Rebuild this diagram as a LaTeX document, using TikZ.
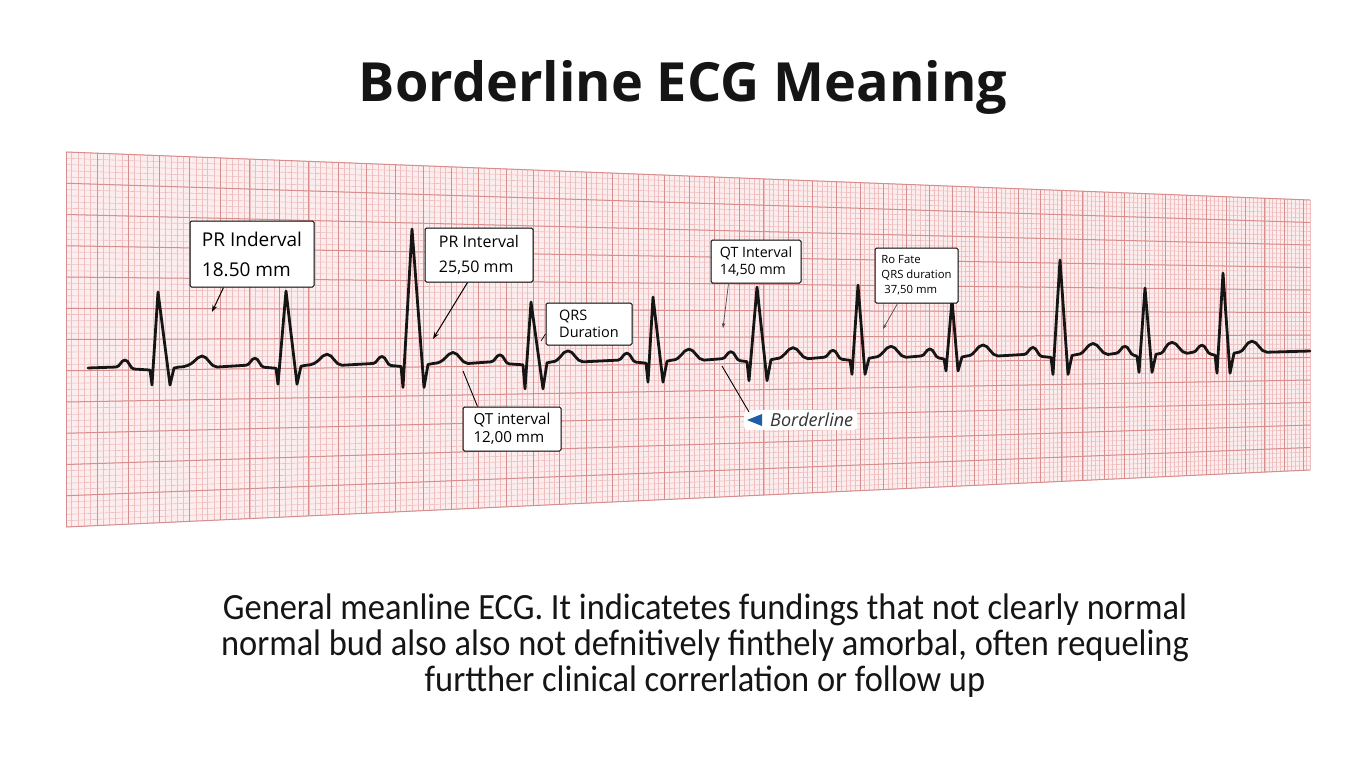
\documentclass[tikz,border=0pt]{standalone}
\usepackage{fontspec}
\setmainfont{Open Sans}
\newfontfamily\bodyfont[FakeStretch=0.93]{Carlito}
\usetikzlibrary{arrows.meta}
\definecolor{paper}{HTML}{FCEEEE}
\definecolor{minorc}{HTML}{EFBFBF}
\definecolor{majorc}{HTML}{D98E8E}
\definecolor{ink}{HTML}{151515}
\definecolor{tri}{HTML}{1F5DA8}
\tikzset{
  minorline/.style={draw=minorc, line width=0.6pt},
  majorline/.style={draw=majorc, line width=1pt},
  ecg/.style={draw=ink, line width=2.8pt, line join=round, line cap=round},
  lbl/.style={draw=black, fill=white, rounded corners=1.5pt, line width=1pt, inner sep=0pt, align=left, text=black},
  conn/.style={draw=black, line width=1pt},
  arr/.style={conn, -{Stealth[length=7pt,width=5pt]}},
  thinarr/.style={draw=black!70, line width=0.7pt, -{Stealth[length=5pt,width=3.5pt]}},
}
\begin{document}
\begin{tikzpicture}[x=1pt,y=-1pt]
\useasboundingbox (0,0) rectangle (1365,768);
\fill[white] (0,0) rectangle (1365,768);

% ECG paper (slight perspective: cells narrow towards the right)
\fill[paper] (66,152) -- (1310,200) -- (1310,470) -- (67,527) -- cycle;
\foreach \i in {0,...,252}{
  \pgfmathsetmacro\dx{3057*(1-exp(-0.002074*\i))}
  \pgfmathsetmacro\xx{66+\dx}
  \pgfmathsetmacro\yt{152+\dx/1244*48}
  \pgfmathsetmacro\ybt{527-\dx/1244*57}
  \draw[minorline] (\xx,\yt) -- (\xx,\ybt);
}
\foreach \j in {0,...,60}{
  \pgfmathsetmacro\yl{152+\j*6.25}
  \pgfmathsetmacro\yr{200+\j*4.5}
  \draw[minorline] (66,\yl) -- (1310,\yr);
}
\foreach \i in {0,5,...,250}{
  \pgfmathsetmacro\dx{3057*(1-exp(-0.002074*\i))}
  \pgfmathsetmacro\xx{66+\dx}
  \pgfmathsetmacro\yt{152+\dx/1244*48}
  \pgfmathsetmacro\ybt{527-\dx/1244*57}
  \draw[majorline] (\xx,\yt) -- (\xx,\ybt);
}
\foreach \j in {0,5,...,60}{
  \pgfmathsetmacro\yl{152+\j*6.25}
  \pgfmathsetmacro\yr{200+\j*4.5}
  \draw[majorline] (66,\yl) -- (1310,\yr);
}

% ECG trace
\draw[ecg] (88,368)
  \foreach \xp/\xq/\xr/\yrr/\xs/\xt/\dd [evaluate=\xr as \yb using 368-(\xr-88)*0.01391] in
  {125/152/158/292/170/202/18, 255/278/286/291/297/327/19, 382/403/412/229/424/453/24,
   500/525/531/302/543/568/27, 627/648/653/297/663/689/22, 731/749/757/287/767/793/22,
   833/852/858/285/865/891/17, 930/946/952/300/958/983/15, 1033/1053/1060/260/1068/1093/20,
   1125/1139/1145/288/1152/1172/19, 1202/1217/1223/273/1230/1252/21}
  { -- (\xp-9,\yb) .. controls (\xp-5,\yb) and (\xp-4,\yb-7) .. (\xp,\yb-7)
    .. controls (\xp+4,\yb-7) and (\xp+5,\yb+2) .. (\xp+9,\yb+2)
    -- (\xq-2,\yb+3) -- (\xq,\yb+\dd) -- (\xr,\yrr) -- (\xs,\yb+\dd) -- (\xs+4,\yb+1) -- (\xs+9,\yb)
    .. controls (\xt-8,\yb) and (\xt-6,\yb-11) .. (\xt,\yb-11)
    .. controls (\xt+6,\yb-11) and (\xt+8,\yb) .. (\xt+15,\yb) }
  -- (1310,351);

% title
\node[font={\bfseries\fontsize{54}{60}\selectfont}, text=ink] (title) at (683,87) {Borderline ECG Meaning};

% labels
\node[lbl, minimum width=124pt, minimum height=66pt,
      font={\fontsize{19}{30}\selectfont}] (b1) at (252,254) {PR Inderval\\18.50 mm};
\node[lbl, minimum width=108pt, minimum height=54pt,
      font={\fontsize{16}{25}\selectfont}] (b2) at (479,255) {PR Interval\\25,50 mm};
\node[lbl, minimum width=86pt, minimum height=42pt,
      font={\fontsize{14.5}{17}\selectfont}] (b3) at (589,324) {QRS\\Duration};
\node[lbl, minimum width=98pt, minimum height=44pt,
      font={\fontsize{15.2}{18}\selectfont}] (b4) at (512,429) {QT interval\\12,00 mm};
\node[lbl, minimum width=90pt, minimum height=43pt,
      font={\fontsize{14.2}{17}\selectfont}] (b5) at (756,261.5) {QT Interval\\14,50 mm};
\node[lbl, minimum width=83pt, minimum height=55pt,
      font={\fontsize{11.3}{15}\selectfont}] (b6) at (916.5,275.5) {Ro Fate\\QRS duration\\\hspace*{3pt}37,50 mm};
\node[fill=white, rounded corners=3pt, inner xsep=4pt, inner ysep=3pt, text=black!80, anchor=west,
      font={\itshape\fontsize{18}{20}\selectfont}] (bl) at (744,420) {\hspace*{22pt}Borderline};
\fill[tri] ([xshift=3pt]bl.west) -- ++(15,-6) -- ++(0,12) -- cycle;

% connector targets
\coordinate (t1) at (212,312);
\coordinate (t2) at (433,339);
\coordinate (t3) at (541,341);
\coordinate (t4) at (463,371);
\coordinate (t5) at (723,328);
\coordinate (t6) at (883,329);
\coordinate (t7) at (722,366);

\draw[arr] ([xshift=34pt]b1.south west) -- (t1);
\draw[arr] ([xshift=43pt]b2.south west) -- (t2);
\draw[conn, line width=0.7pt] ([yshift=-10pt]b3.west) -- (t3);
\draw[conn, line width=0.9pt] ([xshift=15pt]b4.north west) -- (t4);
\draw[thinarr] ([xshift=18pt]b5.south west) -- (t5);
\draw[thinarr] ([xshift=23pt]b6.south west) -- (t6);
\draw[conn, line width=0.9pt] ([xshift=5pt,yshift=8pt]bl.west) -- (t7);

% description
\node[font={\bodyfont\fontsize{37}{36}\selectfont}, align=center, text=ink] (desc) at (705,646)
  {General meanline ECG. It indicatetes fundings that not clearly normal\\
   normal bud also also not defnitively finthely amorbal, often requeling\\
   furtther clinical correrlation or follow up};
\end{tikzpicture}
\end{document}
